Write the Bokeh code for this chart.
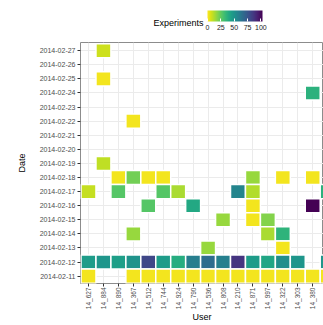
import math
from bokeh.plotting import figure
from bokeh.models import (LinearColorMapper, ColorBar, FixedTicker, Range1d,
                          ColumnDataSource, AllLabels)
from bokeh.palettes import Viridis256
from bokeh.embed import file_html
from bokeh.resources import INLINE

FONT = "Liberation Sans"

users = ["14_627", "14_884", "14_890", "14_367", "14_512", "14_744", "14_924",
         "14_790", "14_536", "14_808", "14_210", "14_871", "14_997", "14_322",
         "14_303", "14_380", "14_401"]
dates = ["2014-02-11", "2014-02-12", "2014-02-13", "2014-02-14", "2014-02-15",
         "2014-02-16", "2014-02-17", "2014-02-18", "2014-02-19", "2014-02-20",
         "2014-02-21", "2014-02-22", "2014-02-23", "2014-02-24", "2014-02-25",
         "2014-02-26", "2014-02-27"]
colorbar_ticks = [0, 25, 50, 75, 100]

tile_user = [
    "14_884",
    "14_884",
    "14_380",
    "14_367",
    "14_884",
    "14_890", "14_367", "14_512", "14_744", "14_871", "14_322", "14_380",
    "14_627", "14_890", "14_744", "14_924", "14_210", "14_871", "14_401",
    "14_512", "14_790", "14_871", "14_380",
    "14_808", "14_871", "14_997",
    "14_367", "14_997", "14_322",
    "14_536", "14_322",
    "14_627", "14_884", "14_890", "14_367", "14_512", "14_744", "14_924", "14_790",
    "14_536", "14_808", "14_210", "14_871", "14_997", "14_322", "14_303", "14_401",
    "14_627", "14_367", "14_512", "14_744", "14_924", "14_790", "14_536", "14_808",
    "14_210", "14_871", "14_997", "14_322", "14_303", "14_380", "14_401",
]
tile_date = (
    ["2014-02-27"]
    + ["2014-02-25"]
    + ["2014-02-24"]
    + ["2014-02-22"]
    + ["2014-02-19"]
    + ["2014-02-18"] * 7
    + ["2014-02-17"] * 7
    + ["2014-02-16"] * 4
    + ["2014-02-15"] * 3
    + ["2014-02-14"] * 3
    + ["2014-02-13"] * 2
    + ["2014-02-12"] * 16
    + ["2014-02-11"] * 15
)
tile_value = [
    8,
    2,
    37,
    2,
    10,
    2, 22, 2, 2, 16, 2, 2,
    9, 27, 27, 13, 56, 12, 37,
    27, 41, 2, 103,
    16, 2, 19,
    16, 13, 36,
    16, 2,
    46, 49, 45, 50, 81, 46, 39, 59, 66, 58, 87, 46, 42, 52, 49, 49,
    2, 2, 2, 2, 2, 2, 2, 2, 2, 2, 2, 2, 2, 2, 2,
]

src = ColumnDataSource(dict(
    x=[users.index(u) for u in tile_user],
    y=[dates.index(d) for d in tile_date],
    v=tile_value,
))

mapper = LinearColorMapper(palette=list(reversed(Viridis256)), low=0, high=103)

p = figure(width=323, height=325, output_backend="svg", toolbar_location=None,
           x_range=Range1d(-0.535, 15.72), y_range=Range1d(-0.52, 16.58),
           min_border_left=80, min_border_right=0, min_border_top=42,
           min_border_bottom=40)
p.background_fill_color = "white"
p.border_fill_color = "white"
p.outline_line_color = "#8c8c8c"
p.outline_line_width = 1

p.title.text = "Experiments"
p.title.text_font = FONT
p.title.text_font_size = "9px"
p.title.text_font_style = "normal"
p.title.text_color = "black"
p.title.align = "left"
p.title.offset = 73
p.title.vertical_align = "middle"
p.title.standoff = 28

p.rect(x="x", y="y", width=1, height=1, source=src,
       fill_color={"field": "v", "transform": mapper},
       line_color="white", line_width=1.5)

p.xaxis.ticker = FixedTicker(ticks=list(range(len(users))))
p.xaxis.major_label_overrides = {i: u for i, u in enumerate(users)}
p.xaxis.major_label_orientation = math.pi / 2
p.yaxis.ticker = FixedTicker(ticks=list(range(len(dates))))
p.yaxis.major_label_overrides = {i: d for i, d in enumerate(dates)}

for ax in (p.xaxis[0], p.yaxis[0]):
    ax.axis_line_color = None
    ax.major_tick_line_color = "#333333"
    ax.major_tick_out = 3
    ax.major_tick_in = 0
    ax.minor_tick_line_color = None
    ax.major_label_text_font = FONT
    ax.major_label_text_color = "#4d4d4d"
    ax.major_label_standoff = 2
    ax.axis_label_text_font = FONT
    ax.axis_label_text_font_style = "normal"
    ax.axis_label_text_font_size = "9px"
    ax.axis_label_text_color = "black"

p.xaxis.major_label_text_font_size = "6.5px"
p.yaxis.major_label_text_font_size = "7px"
p.xaxis.axis_label = "User"
p.yaxis.axis_label = "Date"
p.xaxis.major_label_standoff = 1
p.xaxis.axis_label_standoff = 0
p.yaxis.axis_label_standoff = 10

p.xgrid.grid_line_color = "#ebebeb"
p.ygrid.grid_line_color = "#ebebeb"

cb = ColorBar(color_mapper=mapper, orientation="horizontal", width=55, height=11,
              location=(127, 251), padding=0, margin=0, label_standoff=3,
              ticker=FixedTicker(ticks=colorbar_ticks),
              major_label_policy=AllLabels(),
              major_label_text_font=FONT, major_label_text_font_size="7px",
              major_label_text_color="#222222",
              major_tick_line_color="white", major_tick_in=3, major_tick_out=0,
              minor_tick_line_color=None, bar_line_color=None,
              border_line_color=None, background_fill_alpha=0)
p.add_layout(cb, "center")

open("out.html", "w").write(file_html(p, INLINE))
